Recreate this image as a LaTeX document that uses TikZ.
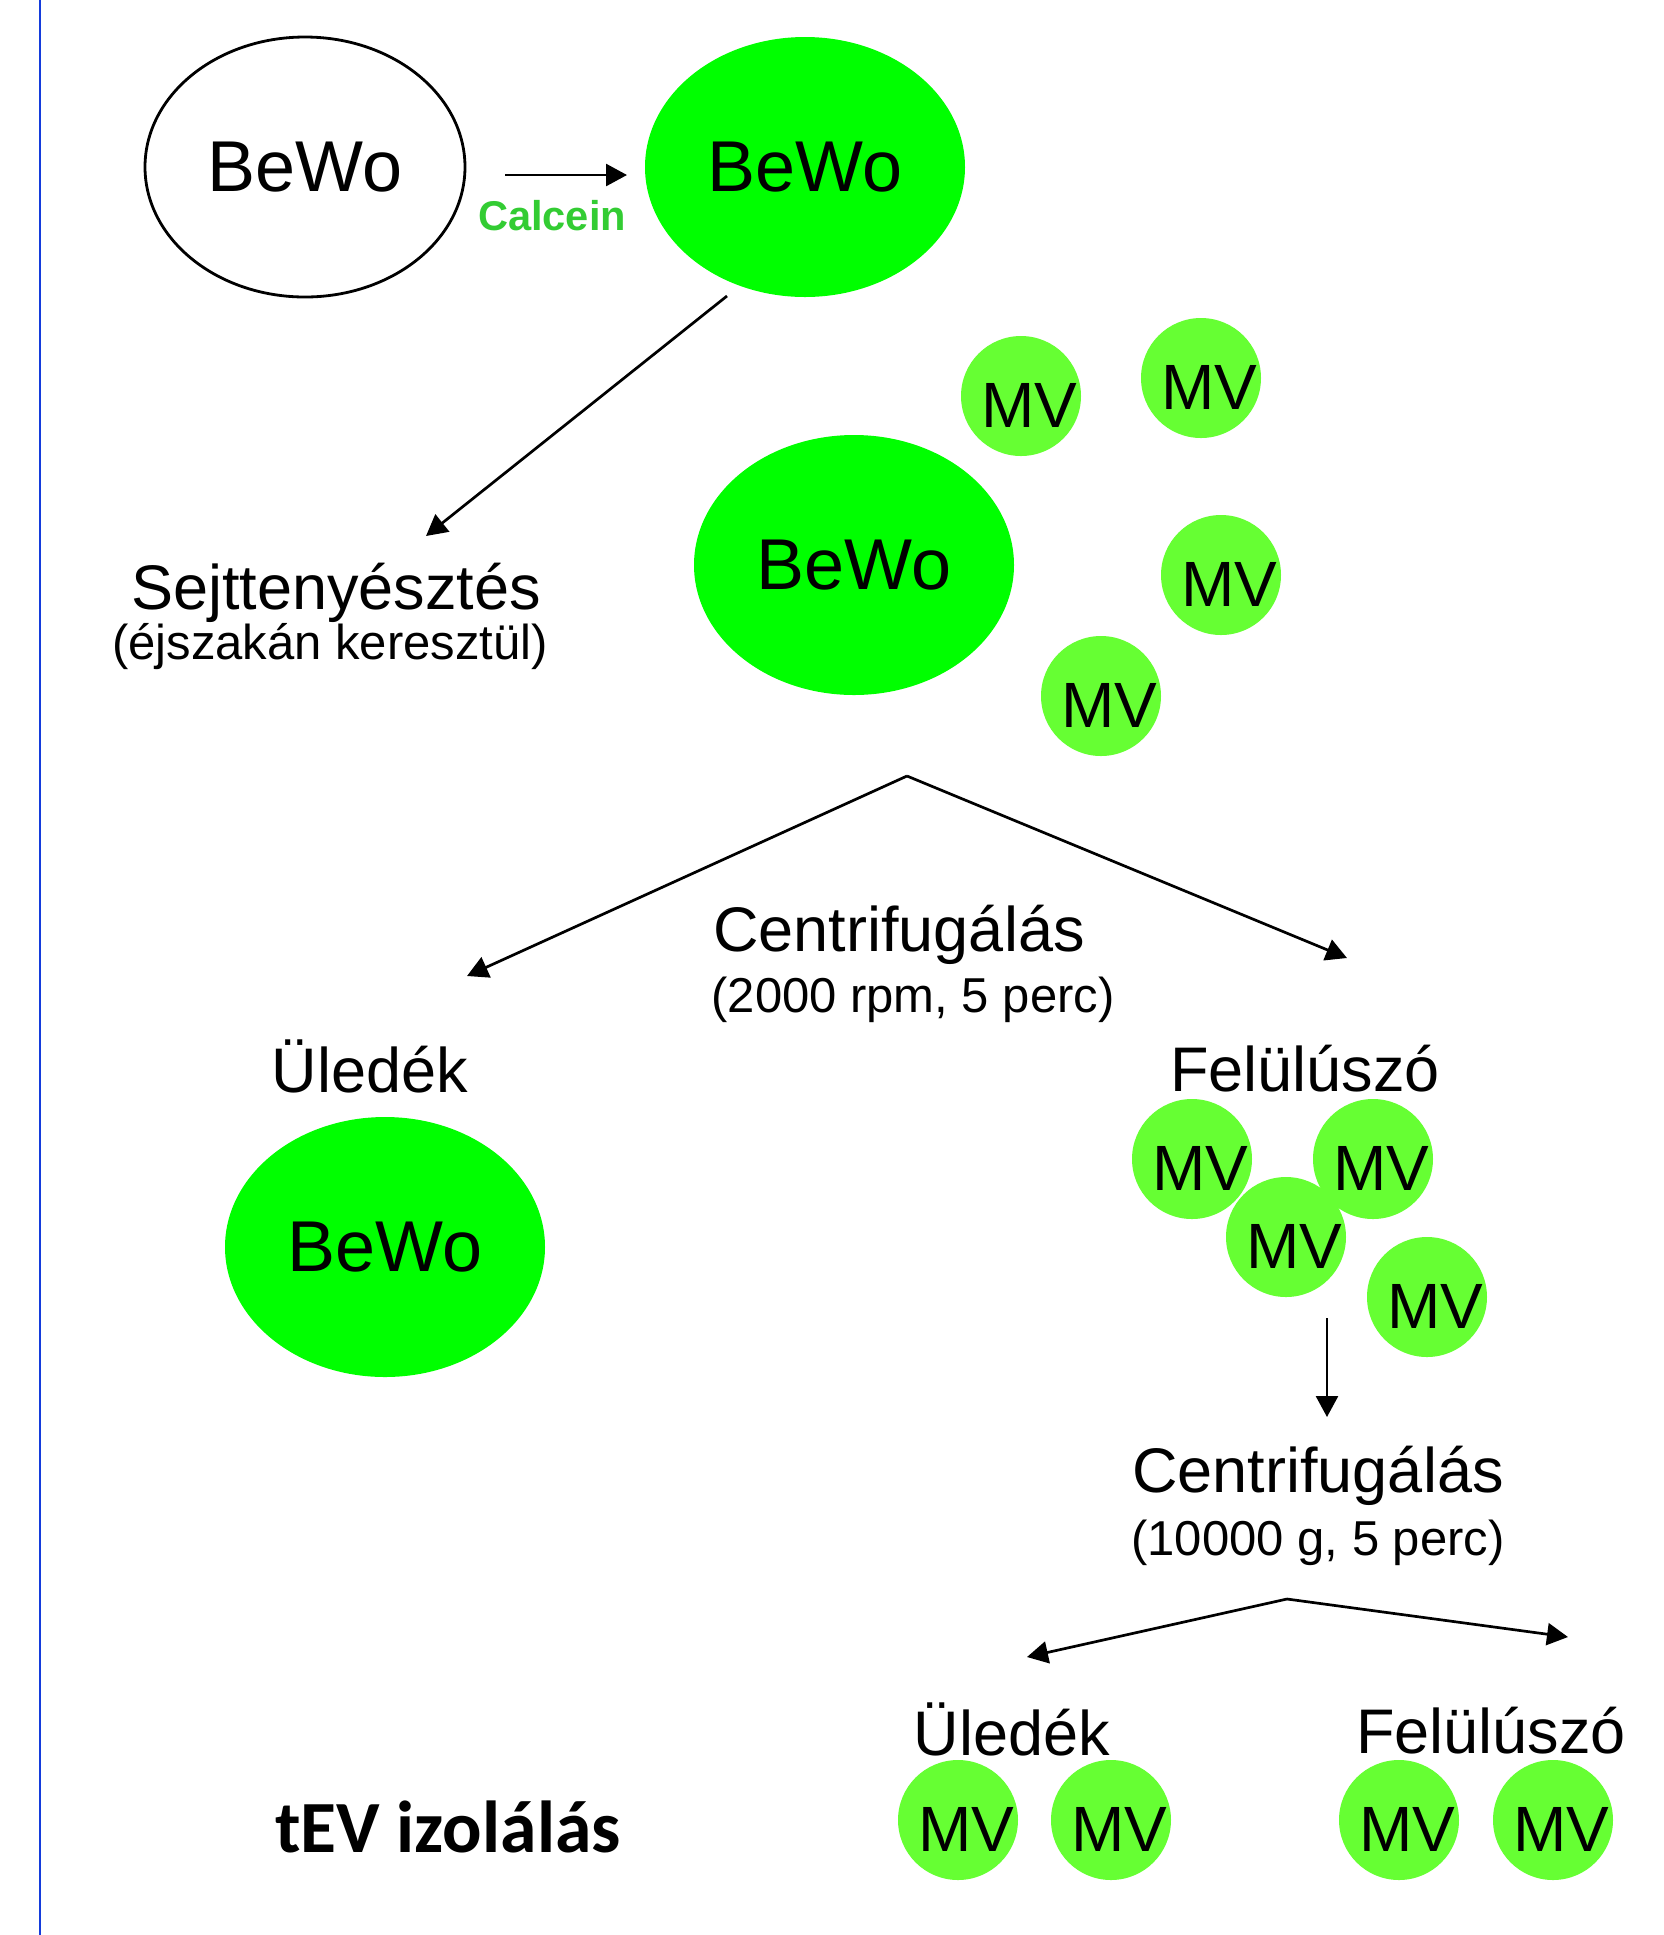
\documentclass[tikz,border=0pt]{standalone}
\usepackage{fontspec}
\setmainfont{Liberation Sans}
\newfontfamily\carlito{Carlito}
\usetikzlibrary{arrows.meta,shapes.geometric}
\definecolor{cellgreen}{RGB}{0,255,0}
\definecolor{mvgreen}{RGB}{102,255,51}
\definecolor{calceingreen}{RGB}{51,204,51}
\definecolor{edgeblue}{RGB}{20,60,220}
% MV label, set a little right of and below the circle centre
\newcommand\mvtag{\raisebox{-15.5pt}[0pt][0pt]{\makebox[0pt]{\hspace*{8pt}MV}}}

\begin{document}
\begin{tikzpicture}[x=0.5pt, y=-0.5pt,
    cell/.style={ellipse, draw=black, line width=1.4pt, minimum width=160pt, minimum height=130pt, inner sep=0pt, font=\fontsize{36}{40}\selectfont},
    greencell/.style={cell, draw=none, fill=cellgreen},
    mv/.style={circle, fill=mvgreen, minimum size=60pt, inner sep=0pt, font=\fontsize{32}{36}\selectfont},
    big/.style={inner sep=0pt, font=\fontsize{31.5}{36}\selectfont},
    small/.style={inner sep=0pt, font=\fontsize{24.5}{28}\selectfont},
    arr/.style={-{Triangle[length=10.5pt, width=11pt]}, line width=1.35pt}]
  \useasboundingbox (0,0) rectangle (1664,1935);
  \draw[edgeblue, line width=1.4pt] (40,0) -- (40,1935);

  % labelling step
  \node[cell] (bewo1) at (305,167) {BeWo};
  \node[greencell] (bewo2) at (805,167) {BeWo};
  \coordinate (calc1) at (505,175);
  \coordinate (calc2) at (627,175);
  \draw[arr] (calc1) -- (calc2);
  \node[inner sep=0pt, text=calceingreen, font=\fontsize{20.8}{24}\selectfont\bfseries] (calcein) at (552,216) {Calcein};

  % overnight culture
  \coordinate (cult1) at (727,296);
  \coordinate (cult2) at (426,536);
  \draw[arr] (cult1) -- (cult2);
  \node[big] (sejt) at (336,593) {Sejttenyésztés};
  \node[small] (sejtsub) at (330,647) {(éjszakán keresztül)};

  \node[greencell] (bewo3) at (854,565) {BeWo};
  \node[mv] (mva) at (1021,396) {\mvtag};
  \node[mv] (mvb) at (1201,378) {\mvtag};
  \node[mv] (mvc) at (1221,575) {\mvtag};
  \node[mv] (mvd) at (1101,696) {\mvtag};

  % first centrifugation
  \coordinate (split1) at (907,776);
  \coordinate (left1) at (467,976);
  \coordinate (right1) at (1347,958);
  \draw[arr] (split1) -- (left1);
  \draw[arr] (split1) -- (right1);
  \node[big] (cent1) at (899,935) {Centrifugálás};
  \node[small] (cent1sub) at (913,1000) {(2000 rpm, 5 perc)};

  \node[big] (pellet1) at (370,1066) {Üledék};
  \node[greencell] (bewo4) at (385,1247) {BeWo};
  \node[big] (super1) at (1305,1069) {Felülúszó};
  \node[mv] (mve) at (1192,1159) {\mvtag};
  \node[mv] (mvf) at (1373,1159) {\mvtag};
  \node[mv] (mvg) at (1286,1237) {\mvtag};
  \node[mv] (mvh) at (1427,1297) {\mvtag};

  % second centrifugation
  \coordinate (down1) at (1327,1318);
  \coordinate (down2) at (1327,1417);
  \draw[arr] (down1) -- (down2);
  \node[big] (cent2) at (1318,1476) {Centrifugálás};
  \node[small] (cent2sub) at (1318,1543) {(10000 g, 5 perc)};
  \coordinate (split2) at (1287,1599);
  \coordinate (left2) at (1027,1657);
  \coordinate (right2) at (1568,1637);
  \draw[arr] (split2) -- (left2);
  \draw[arr] (split2) -- (right2);

  \node[big] (pellet2) at (1012,1729) {Üledék};
  \node[big] (super2) at (1491,1731) {Felülúszó};
  \node[mv] (mvi) at (958,1820) {\mvtag};
  \node[mv] (mvj) at (1111,1820) {\mvtag};
  \node[mv] (mvk) at (1399,1820) {\mvtag};
  \node[mv] (mvl) at (1553,1820) {\mvtag};

  \node[inner sep=0pt, font=\carlito\fontsize{36.8}{42}\selectfont\bfseries] (tev) at (448,1827) {tEV izolálás};
\end{tikzpicture}
\end{document}
